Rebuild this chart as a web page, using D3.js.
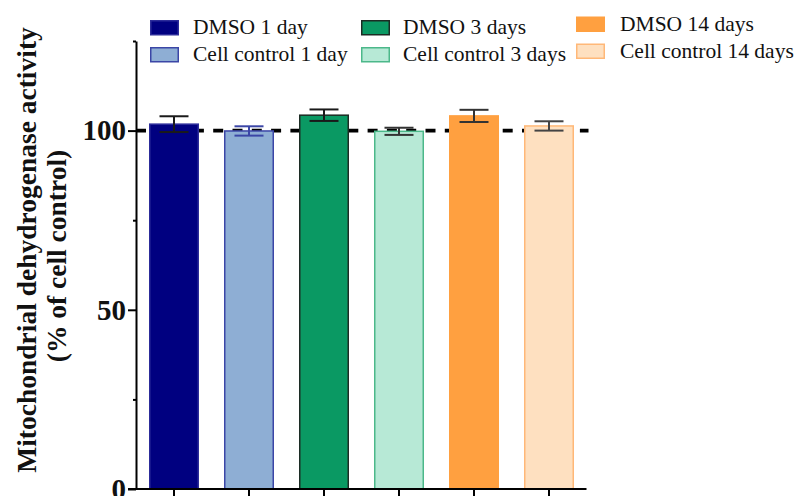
<!DOCTYPE html>
<html>
<head>
<meta charset="utf-8">
<script src="https://cdn.jsdelivr.net/npm/d3@7"></script>
<style>
  html, body { margin: 0; padding: 0; background: #fff; }
  svg { display: block; }
</style>
</head>
<body>
<svg id="chart" width="800" height="496"></svg>
<script>
// ---- data ----
const categories = ["DMSO 1 day", "Cell control 1 day", "DMSO 3 days", "Cell control 3 days", "DMSO 14 days", "Cell control 14 days"];
const meanValues = [101.8, 99.9, 104.3, 99.8, 104.1, 101.3];
const errorValues = [2.2, 1.3, 1.6, 1.0, 1.7, 1.3];
const yTickValues = [0, 50, 100];
const yMinorTickValues = [25, 75, 125];
const referenceValue = 100;
const yAxisTitle = ["Mitochondrial dehydrogenase activity", "(% of cell control)"];

// ---- styles ----
const fillColors   = ["#000080", "#8eaed4", "#0a9963", "#b7e9d6", "#ffa040", "#fee0c0"];
const strokeColors = ["#2c2c9a", "#3b46a6", "#1c2c24", "#4cb88a", "#ffa040", "#ffb878"];
const errorColors  = ["#1a1a1a", "#3b46a6", "#1a1a1a", "#333333", "#333333", "#444444"];
const serif = "'Liberation Serif', 'Times New Roman', serif";

const svg = d3.select("#chart");

// ---- scales ----
const x = d3.scaleBand()
  .domain(categories)
  .range([136.5, 586.5])
  .paddingInner(1 / 3)
  .paddingOuter(1 / 6);

const y = d3.scaleLinear().domain([0, 125]).range([489, 41]);
const axisX = 136;

// ---- reference line at 100 % ----
svg.append("line")
  .attr("x1", axisX).attr("x2", x.range()[1] + 2)
  .attr("y1", y(referenceValue)).attr("y2", y(referenceValue))
  .attr("stroke", "#000")
  .attr("stroke-width", 3.6)
  .attr("stroke-dasharray", "10,9.3");

// ---- bars ----
svg.append("g").selectAll("rect")
  .data(categories)
  .join("rect")
  .attr("x", d => x(d) + 0.75)
  .attr("width", x.bandwidth() - 1.5)
  .attr("y", (d, i) => y(meanValues[i]))
  .attr("height", (d, i) => y(0) - y(meanValues[i]))
  .attr("fill", (d, i) => fillColors[i])
  .attr("stroke", (d, i) => strokeColors[i])
  .attr("stroke-width", 1.5);

// ---- error bars ----
const capHalf = 14.5;
const eb = svg.append("g").selectAll("g")
  .data(categories)
  .join("g")
  .attr("stroke", (d, i) => errorColors[i])
  .attr("stroke-width", 2);

eb.append("line")
  .attr("x1", d => x(d) + x.bandwidth() / 2)
  .attr("x2", d => x(d) + x.bandwidth() / 2)
  .attr("y1", (d, i) => y(meanValues[i] + errorValues[i]))
  .attr("y2", (d, i) => y(meanValues[i] - errorValues[i]));

eb.append("line")
  .attr("x1", d => x(d) + x.bandwidth() / 2 - capHalf)
  .attr("x2", d => x(d) + x.bandwidth() / 2 + capHalf)
  .attr("y1", (d, i) => y(meanValues[i] + errorValues[i]))
  .attr("y2", (d, i) => y(meanValues[i] + errorValues[i]));

eb.append("line")
  .attr("x1", d => x(d) + x.bandwidth() / 2 - capHalf)
  .attr("x2", d => x(d) + x.bandwidth() / 2 + capHalf)
  .attr("y1", (d, i) => y(meanValues[i] - errorValues[i]))
  .attr("y2", (d, i) => y(meanValues[i] - errorValues[i]));

// ---- y axis ----
const yAxis = svg.append("g")
  .attr("transform", `translate(${axisX},0)`)
  .call(d3.axisLeft(y).tickValues(yTickValues).tickSize(8).tickSizeOuter(0).tickPadding(2));

yAxis.select(".domain").attr("stroke-width", 2);
yAxis.selectAll(".tick line").attr("stroke-width", 2);
yAxis.selectAll(".tick text")
  .attr("font-family", serif)
  .attr("font-weight", "bold")
  .attr("font-size", 29)
  .attr("fill", "#111");

const yMinor = svg.append("g")
  .attr("transform", `translate(${axisX},0)`)
  .call(d3.axisLeft(y).tickValues(yMinorTickValues).tickSize(3).tickSizeOuter(0).tickFormat(""));
yMinor.select(".domain").remove();
yMinor.selectAll(".tick line").attr("stroke-width", 2);

// ---- x axis ----
const xAxis = svg.append("g")
  .attr("transform", `translate(0,${y(0)})`)
  .call(d3.axisBottom(x).tickSize(9).tickSizeOuter(0).tickFormat(""));
xAxis.select(".domain").remove();
xAxis.selectAll(".tick line").attr("stroke-width", 2);
xAxis.append("line")
  .attr("x1", axisX - 8).attr("x2", x.range()[1])
  .attr("stroke", "#000").attr("stroke-width", 2);

// ---- y axis title ----
const titleLines = [{ text: yAxisTitle[0], bx: 36, cy: 250 }, { text: yAxisTitle[1], bx: 66, cy: 256 }];
svg.append("g").selectAll("text")
  .data(titleLines)
  .join("text")
  .attr("transform", d => `translate(${d.bx},${d.cy}) rotate(-90)`)
  .attr("text-anchor", "middle")
  .attr("font-family", serif)
  .attr("font-weight", "bold")
  .attr("font-size", 27.5)
  .attr("fill", "#111")
  .text(d => d.text);

// ---- legend: three columns of two rows ----
const colSwatchX = [150, 361, 576];
const colTextX = [193, 403, 620];
const colTop = [20, 20, 16.5];
const rowStep = 27;
const legend = svg.append("g").selectAll("g")
  .data(categories)
  .join("g")
  .attr("transform", (d, i) => {
    const c = Math.floor(i / 2), r = i % 2;
    return `translate(0,${colTop[c] + r * rowStep})`;
  });

legend.append("rect")
  .attr("x", (d, i) => colSwatchX[Math.floor(i / 2)] + 0.75)
  .attr("y", 0.75)
  .attr("width", 27.5)
  .attr("height", 14)
  .attr("fill", (d, i) => fillColors[i])
  .attr("stroke", (d, i) => strokeColors[i])
  .attr("stroke-width", 1.5);

legend.append("text")
  .attr("x", (d, i) => colTextX[Math.floor(i / 2)])
  .attr("y", 14)
  .attr("font-family", serif)
  .attr("font-size", 21.5)
  .attr("fill", "#111")
  .text(d => d);
</script>
</body>
</html>
